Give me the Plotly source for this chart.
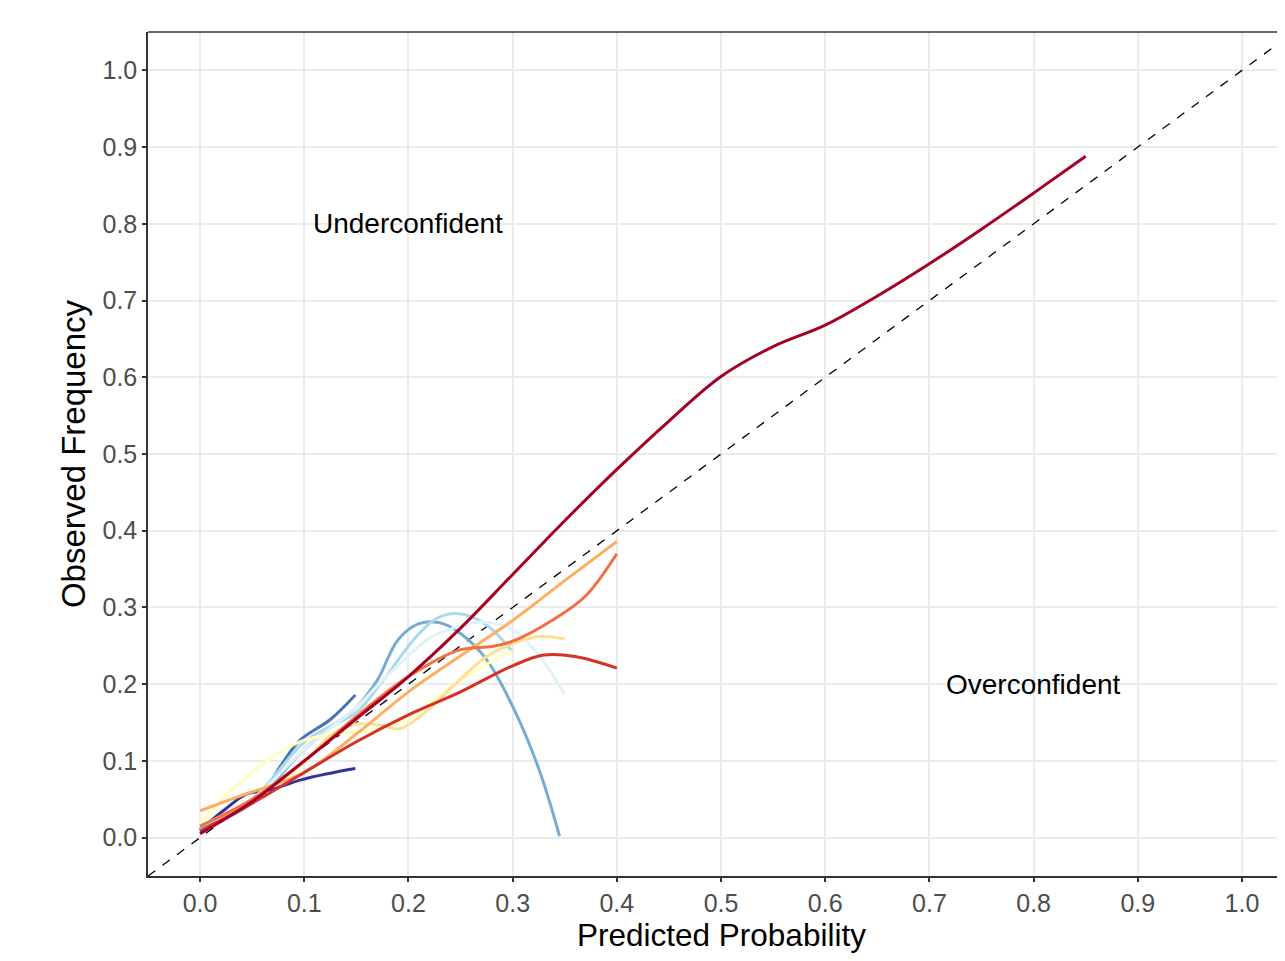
import plotly.graph_objects as go

colors = ["#A50026", "#D73027", "#F46D43", "#FDAE61", "#FEE090", "#FFFFBF",
          "#E0F3F8", "#ABD9E9", "#74ADD1", "#4575B4", "#313695"]

x_c1 = [0, 0.05, 0.1, 0.15, 0.2, 0.25, 0.3, 0.35, 0.4, 0.45, 0.5, 0.55, 0.6, 0.65, 0.7, 0.75, 0.8, 0.85]
y_c1 = [0.005, 0.047, 0.1, 0.155, 0.21, 0.273, 0.343, 0.413, 0.48, 0.543, 0.601, 0.64, 0.668, 0.706, 0.748, 0.793, 0.84, 0.888]

x_c2 = [0, 0.05, 0.1, 0.15, 0.2, 0.25, 0.3, 0.33, 0.36, 0.4]
y_c2 = [0.008, 0.045, 0.085, 0.125, 0.16, 0.19, 0.224, 0.238, 0.236, 0.221]

x_c3 = [0, 0.05, 0.1, 0.15, 0.2, 0.25, 0.28, 0.3, 0.34, 0.37, 0.4]
y_c3 = [0.015, 0.05, 0.1, 0.158, 0.21, 0.245, 0.249, 0.256, 0.285, 0.315, 0.37]

x_c4 = [0, 0.04, 0.1, 0.15, 0.2, 0.25, 0.3, 0.35, 0.4]
y_c4 = [0.035, 0.055, 0.085, 0.135, 0.19, 0.237, 0.283, 0.335, 0.386]

x_c5 = [0, 0.05, 0.1, 0.125, 0.15, 0.175, 0.192, 0.22, 0.25, 0.275, 0.3, 0.325, 0.35]
y_c5 = [0.015, 0.05, 0.098, 0.133, 0.148, 0.146, 0.142, 0.168, 0.207, 0.236, 0.253, 0.262, 0.259]

x_c6 = [0, 0.025, 0.05, 0.075, 0.1, 0.125, 0.15, 0.175, 0.2, 0.225, 0.25, 0.275, 0.3]
y_c6 = [0.018, 0.055, 0.085, 0.11, 0.127, 0.134, 0.138, 0.143, 0.155, 0.18, 0.205, 0.226, 0.243]

x_c7 = [0, 0.05, 0.1, 0.15, 0.175, 0.2, 0.22, 0.25, 0.27, 0.3, 0.326, 0.35]
y_c7 = [0.015, 0.05, 0.115, 0.17, 0.205, 0.237, 0.26, 0.276, 0.281, 0.271, 0.236, 0.186]

x_c8 = [0, 0.05, 0.1, 0.125, 0.15, 0.173, 0.205, 0.225, 0.243, 0.26, 0.278, 0.3]
y_c8 = [0.015, 0.05, 0.125, 0.145, 0.163, 0.2, 0.258, 0.284, 0.292, 0.288, 0.274, 0.242]

x_c9 = [0, 0.05, 0.1, 0.125, 0.15, 0.17, 0.19, 0.21, 0.23, 0.25, 0.275, 0.3, 0.325, 0.345]
y_c9 = [0.01, 0.045, 0.115, 0.143, 0.17, 0.205, 0.258, 0.279, 0.28, 0.266, 0.232, 0.171, 0.09, 0.002]

x_c10 = [0, 0.038, 0.058, 0.077, 0.096, 0.125, 0.149]
y_c10 = [0.01, 0.04, 0.053, 0.093, 0.127, 0.154, 0.186]

x_c11 = [0, 0.025, 0.045, 0.067, 0.096, 0.125, 0.149]
y_c11 = [0.01, 0.038, 0.057, 0.062, 0.075, 0.084, 0.09]

series = [(x_c1, y_c1), (x_c2, y_c2), (x_c3, y_c3), (x_c4, y_c4), (x_c5, y_c5), (x_c6, y_c6),
          (x_c7, y_c7), (x_c8, y_c8), (x_c9, y_c9), (x_c10, y_c10), (x_c11, y_c11)]

diag = [-0.05, 1.05]
ticks = [0.0, 0.1, 0.2, 0.3, 0.4, 0.5, 0.6, 0.7, 0.8, 0.9, 1.0]
tick_labels = ["0.0", "0.1", "0.2", "0.3", "0.4", "0.5", "0.6", "0.7", "0.8", "0.9", "1.0"]

FONT = "Liberation Sans, Arial, Helvetica"

fig = go.Figure()

fig.add_trace(go.Scatter(x=diag, y=diag, mode="lines",
                         line=dict(color="black", width=1.3, dash="dash"),
                         showlegend=False, hoverinfo="skip"))

# draw from last to first so the dark red sits on top
for i in range(len(series) - 1, -1, -1):
    xs, ys = series[i]
    fig.add_trace(go.Scatter(x=xs, y=ys, mode="lines",
                             line=dict(color=colors[i], width=3, shape="spline", smoothing=1.0),
                             showlegend=False))

fig.add_annotation(x=0.2, y=0.8, text="Underconfident", showarrow=False,
                   font=dict(size=28, color="black", family=FONT))
fig.add_annotation(x=0.8, y=0.2, text="Overconfident", showarrow=False,
                   font=dict(size=28, color="black", family=FONT))

# x-axis title placed as an annotation, centred on the (partly cut) panel
fig.add_annotation(xref="paper", yref="paper", x=0.504, y=0, yanchor="middle",
                   yshift=-59, text="Predicted Probability", showarrow=False,
                   font=dict(size=31.5, color="black", family=FONT))

# top panel border (the right border lies outside the picture in the reference)
fig.add_shape(type="line", xref="paper", yref="paper", x0=0, x1=1.05, y0=1, y1=1,
              line=dict(color="#333333", width=1.5), layer="above")

axis_common = dict(
    tickvals=ticks, ticktext=tick_labels,
    showgrid=True, gridcolor="#EBEBEB", gridwidth=1.8,
    zeroline=False,
    showline=True, linecolor="#333333", linewidth=1.5, mirror=False,
    ticks="outside", ticklen=4, tickwidth=1.6, tickcolor="#333333",
    tickfont=dict(size=25, color="#4D4D4D", family=FONT),
)

# page body has an 8px margin; figure is sized/offset so the panel lands where the reference has it
fig.update_layout(
    width=1277, height=945,
    margin=dict(l=140, r=0, t=24, b=77),
    paper_bgcolor="white", plot_bgcolor="white",
    font=dict(family=FONT),
    xaxis=dict(range=[-0.05, 1.0413], **axis_common),
    yaxis=dict(range=[-0.05, 1.05],
               title=dict(text="Observed Frequency", font=dict(size=33, color="black"), standoff=7),
               **axis_common),
)

fig.write_html("out.html")
